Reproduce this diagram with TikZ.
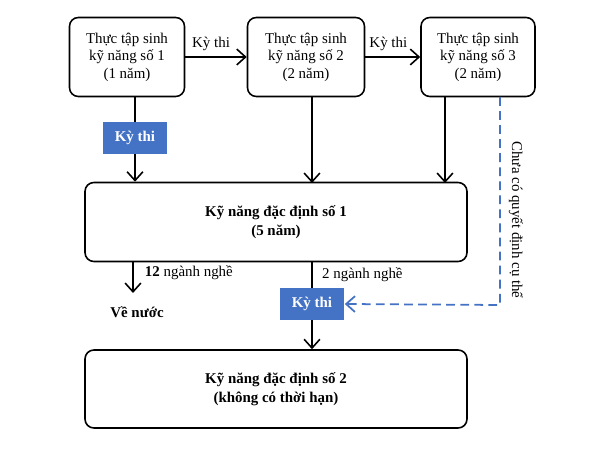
\documentclass[tikz,border=0pt]{standalone}
\usepackage{fontspec}
\setmainfont{Liberation Serif}
\usetikzlibrary{arrows.meta}
\definecolor{ExamBlue}{HTML}{4472C4}

\begin{document}
\begin{tikzpicture}[x=0.02cm,y=-0.02cm,font=\fontsize{8.5}{10}\selectfont,
    stage/.style={draw,line width=0.9pt,rounded corners=5pt,align=center,inner sep=0pt},
    exam/.style={fill=ExamBlue,text=white,font=\fontsize{8.5}{10}\selectfont\bfseries,minimum width=1.3cm,minimum height=0.64cm,inner sep=0pt},
    flow/.style={line width=0.9pt,-{Straight Barb[length=5pt,width=9pt]}}]
    \useasboundingbox (0,0) rectangle (600,449);
    % upper row
    \node[stage,minimum width=2.3cm,minimum height=1.58cm] (tts1) at (127,57) {Thực tập sinh\\kỹ năng số 1\\(1 năm)};
    \node[stage,minimum width=2.34cm,minimum height=1.58cm] (tts2) at (306,57) {Thực tập sinh\\kỹ năng số 2\\(2 năm)};
    \node[stage,minimum width=2.28cm,minimum height=1.58cm] (tts3) at (478,57) {Thực tập sinh\\kỹ năng số 3\\(2 năm)};
    \node[stage,minimum width=7.64cm,minimum height=1.58cm,font=\fontsize{8.5}{11}\selectfont\bfseries] (kn1) at (276,222) {Kỹ năng đặc định số 1\\(5 năm)};
    \node[stage,minimum width=7.64cm,minimum height=1.56cm,font=\fontsize{8.5}{11}\selectfont\bfseries] (kn2) at (276,389) {Kỹ năng đặc định số 2\\(không có thời hạn)};
    \node[exam] (thi1) at (135,138) {Kỳ thi};
    \node[exam] (thi2) at (312,304) {Kỳ thi};
    \node[font=\fontsize{8.5}{10}\selectfont\bfseries] (venuoc) at (137,312) {Về nước};
    \coordinate (ra) at (133,293);
    \coordinate (bend) at (500,305);

    \draw[flow] (tts1) -- node[above,pos=0.42] {Kỳ thi} (tts2);
    \draw[flow] (tts2) -- node[above,pos=0.42] {Kỳ thi} (tts3);
    \draw[line width=0.9pt] (tts1.south -| thi1) -- (thi1);
    \draw[flow] (thi1) -- (thi1 |- kn1.north);
    \draw[flow] (312,97) -- (312,183);
    \draw[flow] (445,97) -- (445,183);
    \draw[flow] (133,262) -- node[right=3pt,pos=0.35] {\textbf{12} ngành nghề} (ra);
    \draw[line width=0.9pt] (kn1.south -| thi2) -- node[right=2pt,pos=0.5] {2 ngành nghề} (thi2);
    \draw[flow] (thi2) -- (thi2 |- kn2.north);
    \draw[ExamBlue,line width=1pt,dash pattern=on 5pt off 3pt,-{Straight Barb[length=5pt,width=9pt]}]
        (500,97) -- (bend) -- (thi2.east);
    \node[rotate=-90] at (516,220) {Chưa có quyết định cụ thể};
\end{tikzpicture}
\end{document}
